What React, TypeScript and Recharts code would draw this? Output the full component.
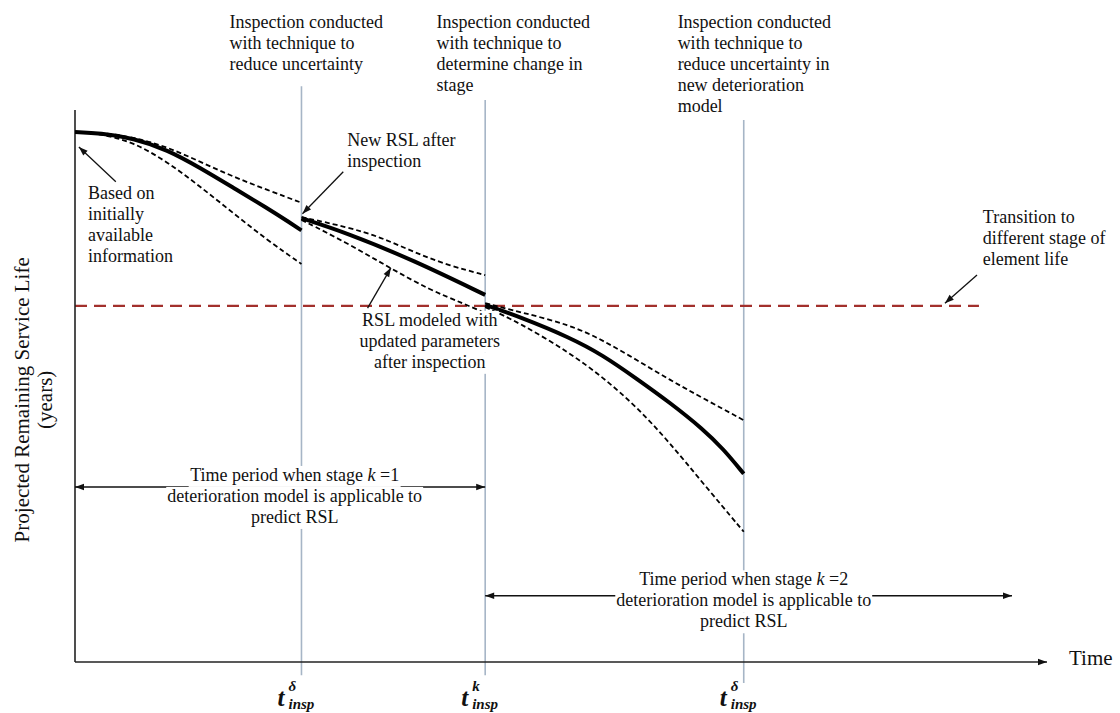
import React from "react";
import { ComposedChart, Line, XAxis, YAxis, ReferenceLine, ReferenceDot } from "recharts";

// time axis runs 0..100, RSL axis 0..100
const inspTimes = [23.3, 42.2, 68.8];
const inspSup = ["δ", "k", "δ"];
const inspTop = [104.3, 101.8, 98.2];
const inspBottom = [-2.4, -2.4, -3.8];

const stageRsl = 64.5;
const stageLineEnd = 93;

// stage k=1, initial information
const seg1Mean = [
  { t: 0, v: 96.0 }, { t: 2.6, v: 95.8 }, { t: 6.0, v: 94.9 }, { t: 9.5, v: 92.8 }, { t: 12.9, v: 89.5 },
  { t: 16.3, v: 85.9 }, { t: 19.8, v: 82.2 }, { t: 22.1, v: 79.6 }, { t: 23.3, v: 78.2 },
];
const seg1Upper = [
  { t: 0, v: 96.0 }, { t: 2.6, v: 95.9 }, { t: 6.0, v: 95.1 }, { t: 9.5, v: 93.3 }, { t: 12.9, v: 90.6 },
  { t: 16.3, v: 87.9 }, { t: 19.8, v: 85.5 }, { t: 23.3, v: 83.2 },
];
const seg1Lower = [
  { t: 0, v: 96.0 }, { t: 2.6, v: 95.7 }, { t: 6.0, v: 94.2 }, { t: 9.5, v: 90.6 }, { t: 12.9, v: 86.1 },
  { t: 16.3, v: 81.3 }, { t: 19.8, v: 76.4 }, { t: 23.3, v: 72.1 },
];

// stage k=1, after first inspection
const seg2Mean = [{ t: 23.3, v: 80.4 }, { t: 28.0, v: 77.7 }, { t: 34.8, v: 72.8 }, { t: 42.2, v: 66.5 }];
const seg2Upper = [
  { t: 23.3, v: 80.6 }, { t: 28.0, v: 78.8 }, { t: 31.4, v: 77.0 }, { t: 34.8, v: 74.3 },
  { t: 38.3, v: 71.9 }, { t: 42.2, v: 70.1 },
];
const seg2Lower = [
  { t: 23.3, v: 80.1 }, { t: 28.0, v: 75.9 }, { t: 32.4, v: 71.4 }, { t: 36.5, v: 67.4 },
  { t: 39.9, v: 65.0 }, { t: 42.2, v: 63.2 },
];

// stage k=2
const seg3Mean = [
  { t: 42.2, v: 64.7 }, { t: 45.8, v: 62.5 }, { t: 50.9, v: 58.8 }, { t: 54.3, v: 55.6 }, { t: 57.8, v: 51.3 },
  { t: 61.2, v: 47.0 }, { t: 64.6, v: 42.2 }, { t: 66.7, v: 38.6 }, { t: 68.8, v: 34.1 },
];
const seg3Upper = [
  { t: 42.2, v: 65.0 }, { t: 45.8, v: 63.4 }, { t: 50.9, v: 61.1 }, { t: 54.3, v: 58.3 }, { t: 57.8, v: 54.7 },
  { t: 61.2, v: 51.1 }, { t: 64.6, v: 47.8 }, { t: 68.8, v: 43.8 },
];
const seg3Lower = [
  { t: 42.2, v: 64.3 }, { t: 45.8, v: 61.4 }, { t: 50.9, v: 56.0 }, { t: 54.3, v: 51.6 }, { t: 57.8, v: 46.2 },
  { t: 61.2, v: 39.7 }, { t: 64.6, v: 32.4 }, { t: 68.8, v: 23.6 },
];

// annotation arrows: [tail, head]
const pointers = [
  [{ x: 4.2, y: 87.0 }, { x: 0.4, y: 93.3 }],
  [{ x: 27.6, y: 88.8 }, { x: 23.4, y: 81.2 }],
  [{ x: 30.1, y: 64.1 }, { x: 32.5, y: 71.4 }],
  [{ x: 92.8, y: 70.1 }, { x: 89.5, y: 65.0 }],
];
const periodArrows = [
  { from: 0, to: 42.2, v: 31.7 },
  { from: 42.2, to: 96.4, v: 12.0 },
];

const notes = [
  { t: 15.9, v: 114.9, anchor: "start", lines: ["Inspection conducted", "with technique to", "reduce uncertainty"] },
  { t: 37.2, v: 114.9, anchor: "start", lines: ["Inspection conducted", "with technique to", "determine change in", "stage"] },
  { t: 62.0, v: 114.9, anchor: "start", lines: ["Inspection conducted", "with technique to", "reduce uncertainty in", "new deterioration", "model"] },
  { t: 1.35, v: 83.9, anchor: "start", lines: ["Based on", "initially", "available", "information"] },
  { t: 28.0, v: 93.5, anchor: "start", lines: ["New RSL after", "inspection"] },
  { t: 36.5, v: 60.9, anchor: "middle", lines: ["RSL modeled with", "updated parameters", "after inspection"] },
  { t: 93.4, v: 79.5, anchor: "start", lines: ["Transition to", "different stage of", "element life"] },
  { t: 22.6, v: 32.8, anchor: "middle", lines: ["Time period when stage k =1", "deterioration model is applicable to", "predict RSL"] },
  { t: 68.8, v: 13.9, anchor: "middle", lines: ["Time period when stage k =2", "deterioration model is applicable to", "predict RSL"] },
];

const SERIF = '"Liberation Serif", "Times New Roman", serif';
const FS = 18;
const LH = 21;
const INK = "#111";

let ctx: CanvasRenderingContext2D | null = null;
const measure = (s: string, size: number) => {
  if (!ctx) ctx = document.createElement("canvas").getContext("2d");
  if (!ctx) return s.length * size * 0.46;
  ctx.font = `${size}px "Liberation Serif"`;
  return ctx.measureText(s).width;
};

const head = (x: number, y: number, ang: number, key: string) => {
  const L = 9, W = 3.2;
  const bx = x - L * Math.cos(ang), by = y - L * Math.sin(ang);
  const px = -Math.sin(ang) * W, py = Math.cos(ang) * W;
  return <polygon key={key} points={`${x},${y} ${bx + px},${by + py} ${bx - px},${by - py}`} fill="#111" />;
};

const arrowShape = (both: boolean, width = 1.3, color = "#111") => (p: any) => {
  const { x1, y1, x2, y2 } = p;
  const ang = Math.atan2(y2 - y1, x2 - x1);
  return (
    <g>
      <line x1={x1} y1={y1} x2={x2} y2={y2} stroke={color} strokeWidth={width} />
      {head(x2, y2, ang, "e")}
      {both && head(x1, y1, ang + Math.PI, "s")}
    </g>
  );
};

const renderLine = (s: string) => {
  const m = s.match(/^(.*stage )k( =\d)$/);
  if (!m) return s;
  return [m[1], <tspan key="k" fontStyle="italic">k</tspan>, m[2]];
};

const TextBlock = ({ cx, cy, lines, anchor }: any) => (
  <g>
    {lines.map((s: string, i: number) => {
      const w = measure(s, FS);
      const left = anchor === "middle" ? cx - w / 2 : cx;
      return <rect key={"b" + i} x={left - 1} y={cy + i * LH - 15} width={w + 2} height={LH} fill="#fff" />;
    })}
    {lines.map((s: string, i: number) => (
      <text key={i} x={cx} y={cy + i * LH} textAnchor={anchor} fontFamily={SERIF} fontSize={FS} fill={INK}>
        {renderLine(s)}
      </text>
    ))}
  </g>
);

const InspLabel = ({ cx, cy, sup }: any) => {
  const st = { fontFamily: SERIF, fontStyle: "italic", fontWeight: 700, fill: INK } as const;
  return (
    <g>
      <text x={cx - 24} y={cy + 44} fontSize={25} {...st}>t</text>
      <text x={cx - 13} y={cy + 29} fontSize={15} {...st}>{sup}</text>
      <text x={cx - 13} y={cy + 47} fontSize={15} {...st}>insp</text>
    </g>
  );
};

const YTitle = ({ cx, cy }: any) => (
  <g fontFamily={SERIF} fontSize={21} fill={INK} textAnchor="middle">
    <text x={cx - 46} y={cy} transform={`rotate(-90 ${cx - 46} ${cy})`}>Projected Remaining Service Life</text>
    <text x={cx - 23} y={cy} transform={`rotate(-90 ${cx - 23} ${cy})`}>(years)</text>
  </g>
);

const TimeTitle = ({ cx, cy }: any) => (
  <text x={cx + 22} y={cy + 3} fontFamily={SERIF} fontSize={21} fill={INK}>Time</text>
);

const curves = [
  { d: seg1Upper, dash: true }, { d: seg1Lower, dash: true }, { d: seg1Mean, dash: false },
  { d: seg2Upper, dash: true }, { d: seg2Lower, dash: true }, { d: seg2Mean, dash: false },
  { d: seg3Upper, dash: true }, { d: seg3Lower, dash: true }, { d: seg3Mean, dash: false },
];

export default function App() {
  return (
    <div style={{ position: "absolute", left: 0, top: 0, width: 1120, height: 713, background: "#fff" }}>
      <ComposedChart width={1120} height={713} margin={{ top: 110, right: 73, bottom: 51, left: 75 }}>
        <XAxis type="number" dataKey="t" domain={[0, 100]} hide height={0} allowDataOverflow />
        <YAxis type="number" domain={[0, 100]} hide width={0} allowDataOverflow />

        {inspTimes.map((t, i) => (
          <ReferenceLine
            key={"insp" + i}
            segment={[{ x: t, y: inspTop[i] }, { x: t, y: inspBottom[i] }]}
            stroke="#a6b5c6"
            strokeWidth={1.6}
            ifOverflow="visible"
          />
        ))}

        <ReferenceLine
          segment={[{ x: 0, y: stageRsl }, { x: stageLineEnd, y: stageRsl }]}
          stroke="#a2302c"
          strokeWidth={2.2}
          strokeDasharray="12 7"
          ifOverflow="visible"
        />

        <ReferenceLine segment={[{ x: 0, y: 0 }, { x: 0, y: 100 }]} stroke="#222" strokeWidth={1.6} ifOverflow="visible" />
        <ReferenceLine
          segment={[{ x: 0, y: 0 }, { x: 100, y: 0 }]}
          ifOverflow="visible"
          shape={arrowShape(false, 1.7, "#222")}
        />

        {curves.map((c, i) => (
          <Line
            key={"c" + i}
            data={c.d}
            dataKey="v"
            type="basis"
            stroke="#000"
            strokeWidth={c.dash ? 1.8 : 4}
            strokeDasharray={c.dash ? "5 3" : undefined}
            dot={false}
            activeDot={false}
            isAnimationActive={false}
          />
        ))}

        {periodArrows.map((a, i) => (
          <ReferenceLine
            key={"pa" + i}
            segment={[{ x: a.from, y: a.v }, { x: a.to, y: a.v }]}
            ifOverflow="visible"
            shape={arrowShape(true, 1.4)}
          />
        ))}

        {pointers.map((p, i) => (
          <ReferenceLine key={"pt" + i} segment={p} ifOverflow="visible" shape={arrowShape(false, 1.3)} />
        ))}

        {notes.map((n, i) => (
          <ReferenceDot
            key={"n" + i}
            x={n.t}
            y={n.v}
            r={0}
            ifOverflow="visible"
            shape={(p: any) => <TextBlock cx={p.cx} cy={p.cy} lines={n.lines} anchor={n.anchor} />}
          />
        ))}

        {inspTimes.map((t, i) => (
          <ReferenceDot
            key={"lbl" + i}
            x={t}
            y={0}
            r={0}
            ifOverflow="visible"
            shape={(p: any) => <InspLabel cx={p.cx} cy={p.cy} sup={inspSup[i]} />}
          />
        ))}

        <ReferenceDot x={0} y={47.5} r={0} ifOverflow="visible" shape={(p: any) => <YTitle cx={p.cx} cy={p.cy} />} />
        <ReferenceDot x={100} y={0} r={0} ifOverflow="visible" shape={(p: any) => <TimeTitle cx={p.cx} cy={p.cy} />} />
      </ComposedChart>
    </div>
  );
}
